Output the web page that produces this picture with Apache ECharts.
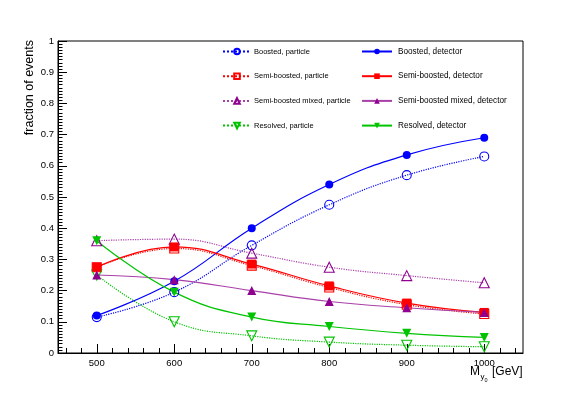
<!DOCTYPE html>
<html>
<head>
<meta charset="utf-8">
<script src="https://cdn.jsdelivr.net/npm/echarts@6/dist/echarts.min.js"></script>
<style>
  html, body { margin: 0; padding: 0; background: #fff; }
  #chart { width: 581px; height: 393px; }
</style>
</head>
<body>
<div id="chart"></div>
<script>
// mass points (GeV)
const massPoints = [500, 600, 700, 800, 900, 1000];
const xTickValues = [500, 600, 700, 800, 900, 1000];
const xMinorTicks = [460, 480, 500, 520, 540, 560, 580, 600, 620, 640, 660, 680, 700, 720, 740, 760, 780, 800, 820, 840, 860, 880, 900, 920, 940, 960, 980, 1000, 1020, 1040];

// fractions
const boostedParticle = [0.115, 0.195, 0.345, 0.475, 0.57, 0.63];
const boostedDetector = [0.12, 0.23, 0.40, 0.54, 0.635, 0.69];
const semiParticle = [0.275, 0.335, 0.28, 0.21, 0.155, 0.125];
const semiDetector = [0.275, 0.34, 0.285, 0.215, 0.16, 0.13];
const mixedParticle = [0.36, 0.365, 0.32, 0.275, 0.248, 0.225];
const mixedDetector = [0.25, 0.235, 0.20, 0.165, 0.145, 0.13];
const resolvedParticle = [0.25, 0.10, 0.055, 0.035, 0.025, 0.02];
const resolvedDetector = [0.36, 0.195, 0.115, 0.085, 0.063, 0.05];

const particleNames = ['Boosted, particle', 'Semi-boosted, particle', 'Semi-boosted mixed, particle', 'Resolved, particle'];
const detectorNames = ['Boosted, detector', 'Semi-boosted, detector', 'Semi-boosted mixed, detector', 'Resolved, detector'];

const BLUE = '#0000ff', RED = '#ff0000', PURPLE = '#8f008f', PURPLE_LINE = '#a840a8', GREEN = '#00c400';

function pairs(vals) {
  return massPoints.map((m, i) => [m, vals[i]]);
}

function mk(name, vals, color, lineColor, symbol, size, open, dotted, rotate) {
  return {
    name: name,
    type: 'line',
    data: pairs(vals),
    smooth: 0.45,
    symbol: symbol,
    symbolSize: size,
    symbolRotate: rotate || 0,
    showSymbol: true,
    itemStyle: open
      ? { color: 'rgba(255,255,255,0)', borderColor: color, borderWidth: 1.1 }
      : { color: color, borderWidth: 0 },
    lineStyle: { color: lineColor, width: 1.2, type: dotted ? 'dotted' : 'solid' },
    emphasis: { disabled: true }
  };
}

const chart = echarts.init(document.getElementById('chart'));

const option = {
  animation: false,
  backgroundColor: '#fff',
  textStyle: { fontFamily: 'Liberation Sans, Arial, sans-serif' },
  grid: {
    left: 58, right: 58, top: 41, bottom: 40,
    show: true, borderColor: '#000', borderWidth: 1, backgroundColor: '#fff'
  },
  legend: [
    {
      data: particleNames,
      orient: 'vertical',
      left: 222, top: 47.5,
      padding: 0,
      itemWidth: 28, itemHeight: 7, itemGap: 16.7,
      selectedMode: false,
      textStyle: { fontSize: 7.5, lineHeight: 7, color: '#000', padding: [0, 0, 0, -2] }
    },
    {
      data: detectorNames,
      orient: 'vertical',
      left: 361, top: 47.5,
      padding: 0,
      itemWidth: 30, itemHeight: 7, itemGap: 16.7,
      selectedMode: false,
      textStyle: { fontSize: 8.2, lineHeight: 7, color: '#000', padding: [0, 0, 0, 1] }
    }
  ],
  xAxis: [
    {
      type: 'value', min: 450, max: 1050,
      axisLine: { lineStyle: { color: '#000' } },
      axisTick: { inside: true, length: 9, customValues: xTickValues, lineStyle: { color: '#000' } },
      axisLabel: { customValues: xTickValues, color: '#000', fontSize: 9.5, margin: 5, formatter: v => String(v) },
      splitLine: { show: false }
    },
    {
      type: 'value', min: 450, max: 1050, position: 'bottom',
      axisLine: { show: false },
      axisTick: { inside: true, length: 5, customValues: xMinorTicks, lineStyle: { color: '#000' } },
      axisLabel: { show: false },
      splitLine: { show: false }
    }
  ],
  yAxis: {
    type: 'value', min: 0, max: 1, interval: 0.1,
    axisLine: { show: true, lineStyle: { color: '#000' } },
    axisTick: { inside: true, length: 9, lineStyle: { color: '#000' } },
    minorTick: { show: true, splitNumber: 10, length: 4.5, lineStyle: { color: '#000', width: 1 } },
    axisLabel: { color: '#000', fontSize: 9.5, margin: 4 },
    splitLine: { show: false }
  },
  graphic: [
    {
      type: 'text', x: 30, y: 40, rotation: Math.PI / 2,
      style: { text: 'fraction of events', fontSize: 12.5, fill: '#000', align: 'right', verticalAlign: 'middle', fontFamily: 'Liberation Sans' }
    },
    { type: 'text', x: 470, y: 372, style: { text: 'M', fontSize: 12, fill: '#000', verticalAlign: 'middle', fontFamily: 'Liberation Sans' } },
    { type: 'text', x: 480.5, y: 376.5, style: { text: 'y', fontSize: 8, fill: '#000', verticalAlign: 'middle', fontFamily: 'Liberation Sans' } },
    { type: 'text', x: 484.5, y: 380.5, style: { text: '0', fontSize: 5.5, fill: '#000', verticalAlign: 'middle', fontFamily: 'Liberation Sans' } },
    { type: 'text', x: 492, y: 372, style: { text: '[GeV]', fontSize: 12, fill: '#000', verticalAlign: 'middle', fontFamily: 'Liberation Sans' } }
  ],
  series: [
    mk(particleNames[0], boostedParticle, BLUE, BLUE, 'circle', 9, true, true),
    mk(particleNames[1], semiParticle, RED, RED, 'rect', 9, true, true),
    mk(particleNames[2], mixedParticle, PURPLE, PURPLE_LINE, 'triangle', 10, true, true),
    mk(particleNames[3], resolvedParticle, GREEN, GREEN, 'triangle', 10, true, true, 180),
    mk(detectorNames[0], boostedDetector, BLUE, BLUE, 'circle', 8, false, false),
    mk(detectorNames[1], semiDetector, RED, RED, 'rect', 9, false, false),
    mk(detectorNames[2], mixedDetector, PURPLE, PURPLE_LINE, 'triangle', 9, false, false),
    mk(detectorNames[3], resolvedDetector, GREEN, GREEN, 'triangle', 9, false, false, 180)
  ]
};

chart.setOption(option);
</script>
</body>
</html>
